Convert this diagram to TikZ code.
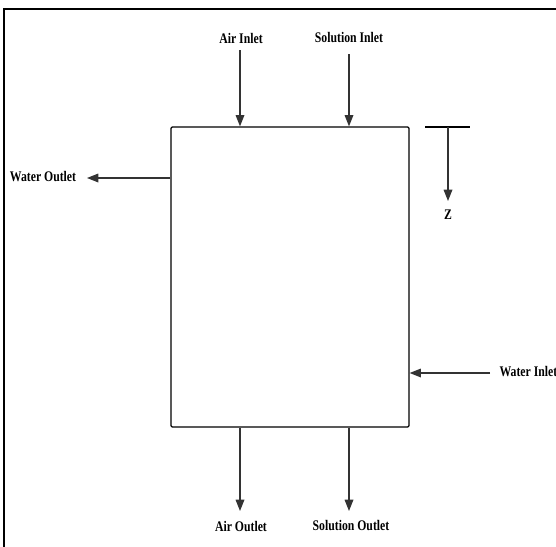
\documentclass[tikz,border=0pt]{standalone}
\usepackage{fontspec}
\setmainfont{Liberation Serif}
\newfontfamily\narrowserif[FakeStretch=0.8]{Liberation Serif}
\usetikzlibrary{arrows.meta}

\begin{document}
\begin{tikzpicture}[
    x=0.75pt, y=-0.75pt,
    label/.style={font=\narrowserif\fontsize{11}{13}\selectfont\bfseries, inner sep=1pt},
    flow/.style={-{Triangle[length=8.5pt,width=6.5pt]}, line width=0.9pt, draw=black!80},
    unit/.style={draw, line width=0.9pt, rounded corners=1pt, inner sep=0pt, minimum width=178.5pt, minimum height=225pt}
]
\useasboundingbox (0,0) rectangle (556,546);
\clip (0,0) rectangle (556,546);
\draw[line width=2.2pt] (4,560) -- (4,9) -- (570,9);

\node[unit] (absorber) at (290,277) {};

\node[label] (airin) at (241,38) {Air Inlet};
\node[label] (solin) at (349,38) {Solution Inlet};
\node[label] (airout) at (241,526) {Air Outlet};
\node[label] (solout) at (351,525) {Solution Outlet};
\node[label] (watout) at (43,177) {Water Outlet};
\node[label, anchor=west] (watin) at (498,372) {Water Inlet};
\node[label] (zlabel) at (448,215) {Z};

\coordinate (airtop) at (240,50);
\coordinate (soltop) at (349,54);
\coordinate (airbot) at (240,511);
\coordinate (solbot) at (349,511);
\coordinate (watend) at (87,178);
\coordinate (watstart) at (490,373);
\coordinate (zleft) at (425,127);
\coordinate (zright) at (470,127);
\coordinate (ztop) at (448,127);
\coordinate (zbot) at (448,201);

\draw[flow] (airtop) -- (airtop |- absorber.north);
\draw[flow] (soltop) -- (soltop |- absorber.north);
\draw[flow] (airbot |- absorber.south) -- (airbot);
\draw[flow] (solbot |- absorber.south) -- (solbot);
\draw[flow] (watend -| absorber.west) -- (watend);
\draw[flow] (watstart) -- (watstart -| absorber.east);

\draw[line width=0.9pt] (zleft) -- (zright);
\draw[flow] (ztop) -- (zbot);
\end{tikzpicture}
\end{document}
